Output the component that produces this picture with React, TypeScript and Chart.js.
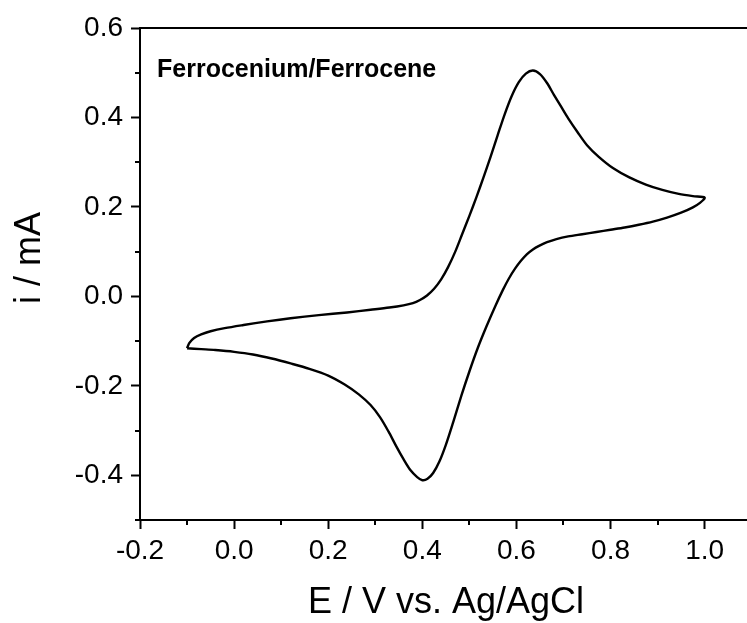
import React, { useEffect, useRef } from "react";
import { Chart, registerables } from "chart.js";

Chart.register(...registerables);

// Cyclic voltammogram: forward scan (upper branch) then reverse scan (lower branch)
const POTENTIAL_V = [
  -0.1, -0.095, -0.085, -0.07, -0.05, -0.02, 0.02, 0.07, 0.12, 0.18, 0.24, 0.29, 0.33, 0.36,
  0.38, 0.395, 0.41, 0.425, 0.44, 0.455, 0.47, 0.485, 0.5, 0.515, 0.53, 0.545, 0.56, 0.575,
  0.59, 0.605, 0.62, 0.635, 0.65, 0.665, 0.68, 0.695, 0.71, 0.73, 0.75, 0.775, 0.805, 0.84,
  0.875, 0.91, 0.945, 0.975, 1.0,
  0.99, 0.975, 0.95, 0.92, 0.89, 0.86, 0.83, 0.8, 0.77, 0.74, 0.71, 0.685, 0.665, 0.648, 0.635,
  0.622, 0.61, 0.597, 0.584, 0.571, 0.555, 0.536, 0.518, 0.5, 0.483, 0.466, 0.45, 0.436, 0.423,
  0.411, 0.4, 0.389, 0.375, 0.36, 0.345, 0.328, 0.31, 0.29, 0.265, 0.235, 0.2, 0.16, 0.12,
  0.08, 0.04, 0.0, -0.04, -0.07, -0.1,
];
const CURRENT_MA = [
  -0.116, -0.104, -0.093, -0.085, -0.078, -0.071, -0.064, -0.056, -0.049, -0.042, -0.036, -0.03,
  -0.025, -0.02, -0.015, -0.008, 0.002, 0.017, 0.038, 0.066, 0.1, 0.14, 0.18, 0.222, 0.266,
  0.312, 0.36, 0.407, 0.448, 0.479, 0.498, 0.505, 0.497, 0.477, 0.45, 0.424, 0.398, 0.367, 0.338,
  0.312, 0.287, 0.266, 0.25, 0.238, 0.229, 0.224, 0.221,
  0.209, 0.199, 0.187, 0.176, 0.167, 0.16, 0.154, 0.149, 0.144, 0.139, 0.134, 0.128, 0.121,
  0.113, 0.105, 0.094, 0.08, 0.062, 0.04, 0.014, -0.022, -0.068, -0.115, -0.168, -0.222, -0.28,
  -0.332, -0.37, -0.395, -0.408, -0.411, -0.404, -0.389, -0.364, -0.336, -0.302, -0.27, -0.243,
  -0.219, -0.197, -0.177, -0.162, -0.15, -0.139, -0.13, -0.124, -0.12, -0.118, -0.116,
];

const X_MAJOR_TICKS = [-0.2, 0.0, 0.2, 0.4, 0.6, 0.8, 1.0];
const X_MINOR_TICKS = [-0.1, 0.1, 0.3, 0.5, 0.7, 0.9];
const Y_MAJOR_TICKS = [-0.4, -0.2, 0.0, 0.2, 0.4, 0.6];
const Y_MINOR_TICKS = [-0.5, -0.3, -0.1, 0.1, 0.3, 0.5];

const X_MIN = -0.2;
const X_MAX = 1.09;
const Y_MIN = -0.5;
const Y_MAX = 0.6;

const X_TITLE = "E / V vs. Ag/AgCl";
const Y_TITLE = "i / mA";
const ANNOTATION = "Ferrocenium/Ferrocene";

const FONT = '"Liberation Sans", Arial, Helvetica, sans-serif';

const decorPlugin = {
  id: "decor",
  afterDraw(chart: any) {
    const { ctx, chartArea } = chart;
    const xs = chart.scales.x;
    const ys = chart.scales.y;
    ctx.save();
    ctx.strokeStyle = "#000";
    ctx.lineWidth = 2;
    // top frame line
    ctx.beginPath();
    ctx.moveTo(chartArea.left, chartArea.top);
    ctx.lineTo(chartArea.right + 2, chartArea.top);
    ctx.stroke();
    // minor ticks
    ctx.beginPath();
    for (const v of X_MINOR_TICKS) {
      const px = Math.round(xs.getPixelForValue(v));
      ctx.moveTo(px, chartArea.bottom);
      ctx.lineTo(px, chartArea.bottom + 5);
    }
    for (const v of Y_MINOR_TICKS) {
      const py = Math.round(ys.getPixelForValue(v));
      ctx.moveTo(chartArea.left, py);
      ctx.lineTo(chartArea.left - 5, py);
    }
    ctx.stroke();
    // axis titles
    ctx.fillStyle = "#000";
    ctx.font = `36px ${FONT}`;
    ctx.textAlign = "center";
    ctx.textBaseline = "alphabetic";
    ctx.fillText(X_TITLE, 446, 613);
    ctx.save();
    ctx.translate(40, 258);
    ctx.rotate(-Math.PI / 2);
    ctx.fillText(Y_TITLE, 0, 0);
    ctx.restore();
    // annotation
    ctx.font = `bold 25px ${FONT}`;
    ctx.textAlign = "left";
    ctx.fillText(ANNOTATION, 157, 77);
    ctx.restore();
  },
};

export default function App() {
  const canvasRef = useRef<HTMLCanvasElement | null>(null);

  useEffect(() => {
    if (!canvasRef.current) return;
    const data = POTENTIAL_V.map((x, i) => ({ x, y: CURRENT_MA[i] }));
    const chart = new Chart(canvasRef.current, {
      type: "scatter",
      data: {
        datasets: [
          {
            data,
            showLine: true,
            borderColor: "#000",
            borderWidth: 2.4,
            pointRadius: 0,
            tension: 0.3,
            fill: false,
          },
        ],
      },
      options: {
        animation: false,
        responsive: false,
        maintainAspectRatio: false,
        layout: { padding: { top: 28, right: 0, left: 0, bottom: 0 } },
        plugins: { legend: { display: false }, tooltip: { enabled: false } },
        scales: {
          x: {
            type: "linear",
            min: X_MIN,
            max: X_MAX,
            afterFit: (scale: any) => {
              scale.height = 103;
            },
            afterBuildTicks: (scale: any) => {
              scale.ticks = X_MAJOR_TICKS.map((v) => ({ value: v }));
            },
            ticks: {
              color: "#000",
              font: { family: FONT, size: 28 },
              padding: 5,
              maxRotation: 0,
              autoSkip: false,
              callback: (v: any) => Number(v).toFixed(1),
            },
            grid: {
              drawOnChartArea: false,
              drawTicks: true,
              tickLength: 9,
              tickWidth: 2,
              tickColor: "#000",
              color: "#000",
            },
            border: { display: true, color: "#000", width: 2 },
          },
          y: {
            type: "linear",
            min: Y_MIN,
            max: Y_MAX,
            afterFit: (scale: any) => {
              scale.width = 140;
            },
            afterBuildTicks: (scale: any) => {
              scale.ticks = Y_MAJOR_TICKS.map((v) => ({ value: v }));
            },
            ticks: {
              color: "#000",
              font: { family: FONT, size: 28 },
              padding: 8,
              autoSkip: false,
              callback: (v: any) => Number(v).toFixed(1),
            },
            grid: {
              drawOnChartArea: false,
              drawTicks: true,
              tickLength: 9,
              tickWidth: 2,
              tickColor: "#000",
              color: "#000",
            },
            border: { display: true, color: "#000", width: 2 },
          },
        },
      },
      plugins: [decorPlugin],
    });
    return () => chart.destroy();
  }, []);

  return (
    <div style={{ position: "absolute", left: 0, top: 0, width: 747, height: 623, background: "#fff" }}>
      <canvas ref={canvasRef} width={747} height={623} style={{ width: 747, height: 623 }} />
    </div>
  );
}
